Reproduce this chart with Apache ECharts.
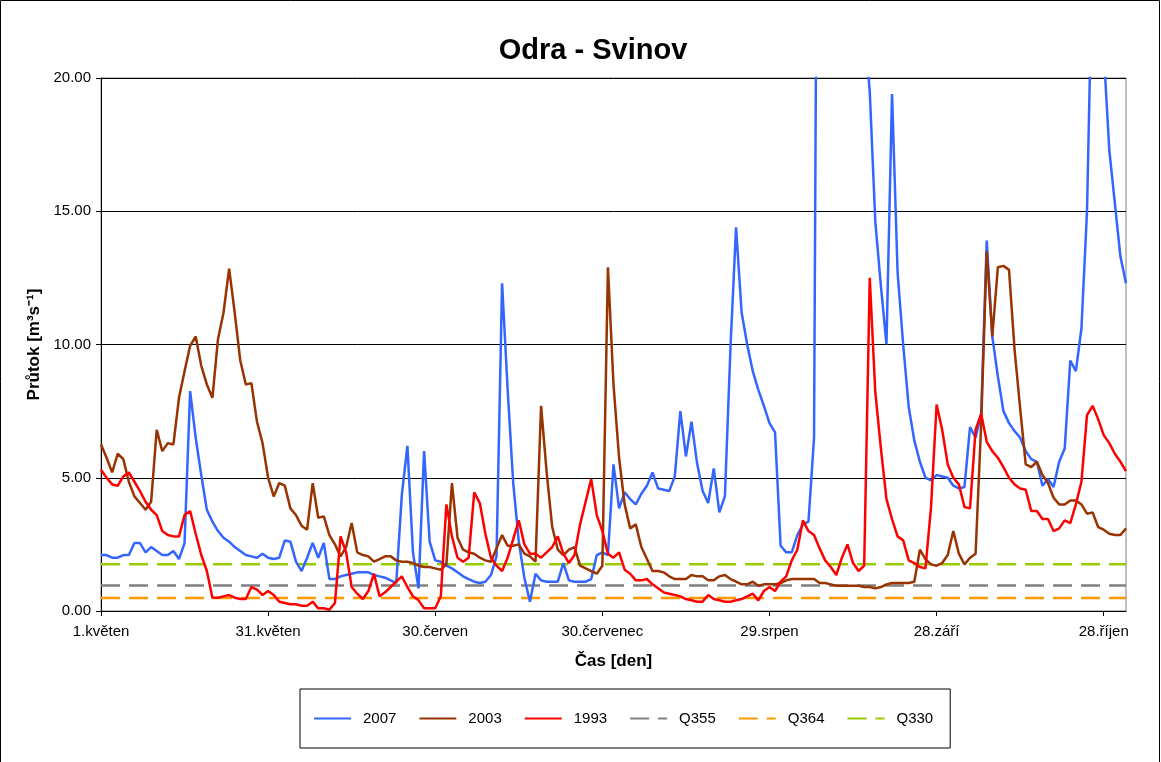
<!DOCTYPE html>
<html>
<head>
<meta charset="utf-8">
<title>Odra - Svinov</title>
<script src="https://cdn.jsdelivr.net/npm/echarts@6.0.0/dist/echarts.min.js"></script>
<style>
  html, body { margin: 0; padding: 0; background: #fff; }
  #chart { width: 1161px; height: 762px; }
</style>
</head>
<body>
<div id="chart"></div>
<script>
// dny 1.květen .. 1.listopad (185 hodnot)
const months = [['květen', 31], ['červen', 30], ['červenec', 31], ['srpen', 31], ['září', 30], ['říjen', 31], ['listopad', 1]];
const days = [];
months.forEach(([name, n]) => {
  for (let d = 1; d <= n; d++) days.push(d + '.' + name);
});

// průtoky [m3/s]
const y2007 = [
  2.1, 2.1, 2.0, 2.0, 2.1, 2.1, 2.55, 2.55, 2.2, 2.4,
  2.25, 2.1, 2.1, 2.25, 1.95, 2.55, 8.25, 6.5, 5.1, 3.8,
  3.35, 3.0, 2.75, 2.6, 2.4, 2.25, 2.1, 2.05, 2.0, 2.15,
  2.0, 1.95, 2.0, 2.65, 2.6, 1.85, 1.5, 2.0, 2.55, 2.0,
  2.55, 1.2, 1.2, 1.3, 1.35, 1.4, 1.45, 1.45, 1.45, 1.35,
  1.3, 1.25, 1.15, 1.05, 4.35, 6.2, 2.2, 0.85, 6.0, 2.6,
  1.9, 1.85, 1.7, 1.6, 1.45, 1.3, 1.2, 1.1, 1.05, 1.1,
  1.35, 2.05, 12.3, 8.3, 4.8, 2.6, 1.25, 0.35, 1.4, 1.15,
  1.1, 1.1, 1.1, 1.8, 1.15, 1.1, 1.1, 1.1, 1.2, 2.1,
  2.2, 2.1, 5.5, 3.85, 4.45, 4.2, 4.0, 4.4, 4.7, 5.2,
  4.6, 4.55, 4.5, 5.05, 7.5, 5.8, 7.1, 5.55, 4.5, 4.05,
  5.35, 3.7, 4.3, 9.9, 14.4, 11.2, 10.0, 9.0, 8.3, 7.7,
  7.05, 6.7, 2.45, 2.2, 2.2, 2.85, 3.25, 3.35, 6.5, 48,
  55, 42, 36, 31, 28, 26, 24, 22, 19.5, 14.6,
  12.2, 10.0, 19.4, 12.7, 10.0, 7.65, 6.4, 5.6, 5.0, 4.9,
  5.1, 5.05, 5.0, 4.7, 4.6, 4.65, 6.9, 6.5, 7.4, 13.9,
  10.3, 8.8, 7.5, 7.05, 6.75, 6.5, 6.0, 5.7, 5.6, 4.7,
  4.95, 4.65, 5.6, 6.1, 9.4, 9.0, 10.6, 15.0, 25, 28,
  21, 17.3, 15.3, 13.3, 12.3
];
const y2003 = [
  6.25, 5.75, 5.2, 5.9, 5.7, 4.85, 4.3, 4.05, 3.8, 4.1,
  6.8, 6.0, 6.3, 6.25, 8.0, 9.0, 9.95, 10.3, 9.2, 8.5,
  8.0, 10.2, 11.2, 12.85, 11.2, 9.4, 8.5, 8.55, 7.1, 6.3,
  5.0, 4.3, 4.8, 4.7, 3.85, 3.6, 3.2, 3.05, 4.8, 3.5,
  3.55, 2.85, 2.5, 2.05, 2.4, 3.3, 2.2, 2.1, 2.05, 1.85,
  1.95, 2.05, 2.05, 1.9, 1.85, 1.85, 1.8, 1.7, 1.65, 1.65,
  1.6, 1.55, 1.75, 4.8, 2.75, 2.3, 2.2, 2.15, 2.0, 1.9,
  1.85, 2.35, 2.85, 2.45, 2.45, 2.5, 2.15, 2.05, 1.85, 7.7,
  5.2, 3.15, 2.3, 2.1, 2.3, 2.4, 1.7, 1.6, 1.5, 1.4,
  1.7, 12.9, 8.5, 5.75, 4.0, 3.1, 3.25, 2.4, 1.95, 1.5,
  1.5, 1.45, 1.3, 1.2, 1.2, 1.2, 1.35, 1.3, 1.3, 1.15,
  1.15, 1.3, 1.35, 1.2, 1.1, 1.0, 1.0, 1.1, 0.95, 1.0,
  1.0, 1.0, 1.05, 1.15, 1.2, 1.2, 1.2, 1.2, 1.2, 1.05,
  1.05, 1.0, 0.95, 0.95, 0.95, 0.95, 0.95, 0.9, 0.9, 0.85,
  0.9, 1.0, 1.05, 1.05, 1.05, 1.05, 1.1, 2.3, 1.95, 1.75,
  1.7, 1.8, 2.1, 3.0, 2.15, 1.75, 2.0, 2.15, 7.0, 13.5,
  10.3, 12.9, 12.95, 12.8, 9.8, 7.6, 5.5, 5.4, 5.6, 5.1,
  4.8, 4.25, 4.0, 4.0, 4.15, 4.15, 4.0, 3.65, 3.7, 3.15,
  3.05, 2.9, 2.85, 2.85, 3.1
];
const y1993 = [
  5.3, 5.0, 4.75, 4.7, 5.05, 5.2, 4.85, 4.5, 4.1, 3.8,
  3.6, 3.0, 2.85, 2.8, 2.8, 3.6, 3.75, 2.9, 2.1, 1.5,
  0.5, 0.5, 0.55, 0.6, 0.5, 0.45, 0.45, 0.9, 0.8, 0.6,
  0.75, 0.6, 0.35, 0.3, 0.25, 0.25, 0.2, 0.2, 0.35, 0.1,
  0.1, 0.05, 0.3, 2.8, 2.2, 0.9, 0.65, 0.45, 0.75, 1.4,
  0.55, 0.7, 0.9, 1.1, 1.3, 0.9, 0.55, 0.4, 0.1, 0.1,
  0.1, 0.55, 4.0, 2.8, 2.0, 1.85, 2.0, 4.45, 4.05, 2.9,
  2.0, 1.7, 1.5, 2.0, 2.7, 3.4, 2.5, 2.15, 2.15, 2.0,
  2.2, 2.4, 2.8, 2.15, 1.8, 2.1, 3.25, 4.1, 4.95, 3.6,
  3.0, 2.15, 2.0, 2.2, 1.55, 1.4, 1.15, 1.15, 1.2, 1.0,
  0.85, 0.7, 0.65, 0.6, 0.55, 0.45, 0.4, 0.35, 0.35, 0.6,
  0.45, 0.4, 0.35, 0.35, 0.4, 0.45, 0.55, 0.65, 0.4, 0.75,
  0.9, 0.75, 1.1, 1.3, 1.9, 2.3, 3.4, 3.0, 2.85, 2.35,
  1.9, 1.65, 1.35, 2.0, 2.5, 1.8, 1.5, 1.7, 12.5, 8.2,
  6.1, 4.2, 3.45, 2.8, 2.65, 1.9, 1.8, 1.65, 1.6, 3.9,
  7.75, 6.8, 5.5, 5.0, 4.75, 3.9, 3.85, 6.8, 7.4, 6.35,
  6.0, 5.75, 5.4, 5.0, 4.75, 4.6, 4.55, 3.75, 3.75, 3.45,
  3.45, 3.0, 3.1, 3.4, 3.3, 4.0, 4.85, 7.35, 7.7, 7.2,
  6.6, 6.3, 5.9, 5.6, 5.25
];

// charakteristické průtoky
const Q355 = 0.96;
const Q364 = 0.49;
const Q330 = 1.75;

const yTicks = [0, 5, 10, 15, 20];

const font = '"Liberation Sans", Arial, sans-serif';

function qLine(name, value, color) {
  return {
    name: name,
    type: 'line',
    symbol: 'none',
    data: [[days[0], value], [days[days.length - 1], value]],
    lineStyle: { color: color, width: 2.5, type: [19, 9] },
    itemStyle: { color: color },
    z: 1
  };
}

function dataLine(name, data, color) {
  return {
    name: name,
    type: 'line',
    symbol: 'none',
    data: data,
    clip: true,
    lineStyle: { color: color, width: 2.5 },
    itemStyle: { color: color },
    z: 3
  };
}

const chart = echarts.init(document.getElementById('chart'));
chart.setOption({
  animation: false,
  backgroundColor: '#fff',
  textStyle: { fontFamily: font },
  title: {
    text: 'Odra - Svinov',
    left: 588,
    top: 31,
    textAlign: 'center',
    textStyle: { fontFamily: font, fontSize: 29, fontWeight: 'bold', color: '#000' }
  },
  graphic: [{
    type: 'rect',
    shape: { x: 0.5, y: 0.5, width: 1159, height: 780 },
    style: { fill: 'none', stroke: '#000', lineWidth: 1 },
    silent: true
  }],
  legend: {
    left: 300,
    top: 689,
    padding: [22, 17, 22, 13],
    itemWidth: 37,
    itemHeight: 14,
    itemGap: 22,
    borderColor: '#000',
    borderWidth: 1,
    itemStyle: { opacity: 0 },
    textStyle: { fontFamily: font, fontSize: 15, color: '#000', padding: [0, 0, 0, 7] },
    data: ['2007', '2003', '1993', 'Q355', 'Q364', 'Q330']
  },
  grid: {
    left: 101,
    top: 78,
    width: 1025,
    height: 533,
    show: true,
    borderColor: '#808080',
    borderWidth: 1
  },
  xAxis: {
    type: 'category',
    data: days,
    boundaryGap: false,
    name: 'Čas [den]',
    nameLocation: 'middle',
    nameGap: 42,
    nameTextStyle: { fontFamily: font, fontSize: 17, fontWeight: 'bold', color: '#000' },
    axisLine: { lineStyle: { color: '#000', width: 1 } },
    axisTick: { interval: 29, length: 5, lineStyle: { color: '#000' } },
    axisLabel: { interval: 29, margin: 13, fontFamily: font, fontSize: 15, color: '#000' },
    splitLine: { show: false }
  },
  yAxis: {
    type: 'value',
    min: yTicks[0],
    max: yTicks[yTicks.length - 1],
    interval: yTicks[1] - yTicks[0],
    name: 'Průtok [m³s⁻¹]',
    nameLocation: 'middle',
    nameRotate: 90,
    nameGap: 58,
    nameTextStyle: { fontFamily: font, fontSize: 17, fontWeight: 'bold', color: '#000' },
    axisLine: { show: true, lineStyle: { color: '#000', width: 1 } },
    axisTick: { show: true, length: 5, lineStyle: { color: '#000' } },
    axisLabel: {
      margin: 10,
      fontFamily: font,
      fontSize: 15,
      color: '#000',
      formatter: v => v.toFixed(2)
    },
    splitLine: { show: true, lineStyle: { color: '#000', width: 1 } }
  },
  series: [
    dataLine('2007', y2007, '#3366FF'),
    dataLine('2003', y2003, '#993300'),
    dataLine('1993', y1993, '#FF0000'),
    qLine('Q355', Q355, '#808080'),
    qLine('Q364', Q364, '#FF9900'),
    qLine('Q330', Q330, '#99CC00')
  ]
});
</script>
</body>
</html>
